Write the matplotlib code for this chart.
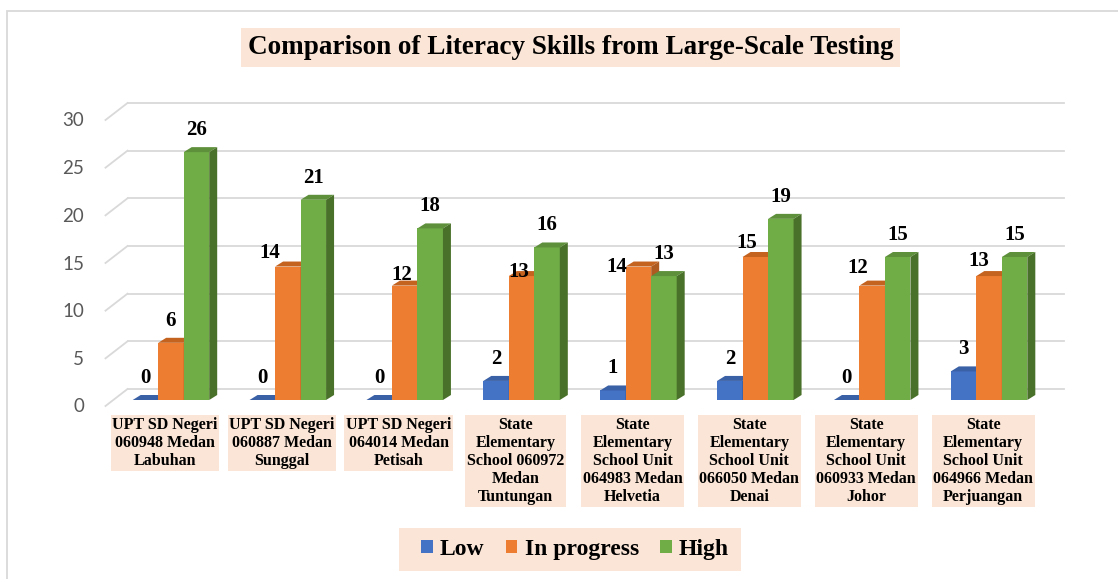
import matplotlib
matplotlib.use('Agg')
import matplotlib.pyplot as plt
from matplotlib.patches import Polygon, Rectangle, Patch
from matplotlib.transforms import ScaledTranslation

# ---------------- data ----------------
categories = [
    "UPT SD Negeri 060948 Medan Labuhan",
    "UPT SD Negeri 060887 Medan Sunggal",
    "UPT SD Negeri 064014 Medan Petisah",
    "State Elementary School 060972 Medan Tuntungan",
    "State Elementary School Unit 064983 Medan Helvetia",
    "State Elementary School Unit 066050 Medan Denai",
    "State Elementary School Unit 060933 Medan Johor",
    "State Elementary School Unit 064966 Medan Perjuangan",
]
category_labels = [
    "UPT SD Negeri\n060948 Medan\nLabuhan",
    "UPT SD Negeri\n060887 Medan\nSunggal",
    "UPT SD Negeri\n064014 Medan\nPetisah",
    "State\nElementary\nSchool 060972\nMedan\nTuntungan",
    "State\nElementary\nSchool Unit\n064983 Medan\nHelvetia",
    "State\nElementary\nSchool Unit\n066050 Medan\nDenai",
    "State\nElementary\nSchool Unit\n060933 Medan\nJohor",
    "State\nElementary\nSchool Unit\n064966 Medan\nPerjuangan",
]
low = [0, 0, 0, 2, 1, 2, 0, 3]
in_progress = [6, 14, 12, 13, 14, 15, 12, 13]
high = [26, 21, 18, 16, 13, 19, 15, 15]
series_names = ["Low", "In progress", "High"]
y_ticks = [0, 5, 10, 15, 20, 25, 30]
title_text = "Comparison of Literacy Skills from Large-Scale Testing"

# ---------------- style / layout ----------------
front_colors = ["#4472C4", "#ED7D31", "#70AD47"]
top_colors = ["#3A60A6", "#C4621F", "#5E903B"]
side_colors = ["#2F528F", "#AE5A21", "#4A7129"]
peach = "#FBE5D6"
grid_color = "#D9D9D9"
serif = "Liberation Serif"
# nudges (pixels) applied to the orange data labels, as Excel placed them
orange_label_nudge = [(0, 0), (-18, 8), (-3, 11), (-3, 18), (-22, 22), (-9, 8), (-14, 4), (-10, 7)]

W, H, DPI = 1118, 579, 100
fig = plt.figure(figsize=(W / DPI, H / DPI), dpi=DPI)
ax = fig.add_axes([112.5 / W, 179 / H, 935 / W, 286 / H])
n = len(categories)
ax.set_xlim(-0.5, n - 0.5)
ax.set_ylim(0, 30)
ax.axis('off')


def off(dx, dy):
    return ScaledTranslation(dx / DPI, dy / DPI, fig.dpi_scale_trans)


p0 = ax.transData.transform((0, 0))
p1 = ax.transData.transform((1, 1))
px_x = p1[0] - p0[0]
px_y = p1[1] - p0[1]

# back wall / side wall geometry (pixels relative to bar plane)
back_dx, back_dy = 15, 11
front_dx, front_dy = -7, -6
xl, xr = ax.get_xlim()

for v in y_ticks:
    ax.plot([xl + back_dx / px_x, xr + (back_dx + 1) / px_x],
            [v + back_dy / px_y, v + back_dy / px_y],
            color=grid_color, lw=1.3, clip_on=False, zorder=0.5)
    ax.plot([xl + front_dx / px_x, xl + back_dx / px_x],
            [v + front_dy / px_y, v + back_dy / px_y],
            color=grid_color, lw=1.3, clip_on=False, zorder=0.5)
    ax.text(0, v, str(v), transform=ax.get_yaxis_transform() + off(-28.5, -7),
            ha='right', va='center', family='Lato', fontsize=13.5, color='#595959')

# bars
bw = 25.5 / px_x
ddx = 8 / px_x
ddy = 5 / px_y
series = [low, in_progress, high]
offsets = [-bw, 0, bw]
for s, vals in enumerate(series):
    xs = [i + offsets[s] for i in range(n)]
    ax.bar(xs, vals, width=bw, color=front_colors[s], zorder=2, clip_on=False,
           edgecolor='none')
    for x, v in zip(xs, vals):
        x0, x1 = x - bw / 2, x + bw / 2
        top = Polygon([(x0, v), (x1, v), (x1 + ddx, v + ddy), (x0 + ddx, v + ddy)],
                      closed=True, fc=top_colors[s], ec='none', zorder=2, clip_on=False)
        side = Polygon([(x1, 0), (x1, v), (x1 + ddx, v + ddy), (x1 + ddx, ddy)],
                       closed=True, fc=side_colors[s], ec='none', zorder=2, clip_on=False)
        ax.add_patch(top)
        ax.add_patch(side)

# data labels
for s, vals in enumerate(series):
    for i, v in enumerate(vals):
        ndx, ndy = (orange_label_nudge[i] if s == 1 else (0, 0))
        ax.annotate(str(v), (i + offsets[s], v), xytext=(ndx, 22 - ndy),
                    textcoords='offset pixels', ha='center', va='center',
                    family=serif, fontweight='bold', fontsize=15, color='black',
                    zorder=5, annotation_clip=False)

# category labels
for i, lab in enumerate(category_labels):
    ax.text(i, 0, lab, transform=ax.transData + off(-6, -17), ha='center', va='top',
            family=serif, fontweight='bold', fontsize=11.5, linespacing=1.17,
            multialignment='center',
            bbox=dict(boxstyle='square,pad=0.1', fc=peach, ec='none'))

# title
fig.text(570.5 / W, 1 - 47.5 / H, title_text, ha='center', va='center',
         family=serif, fontweight='bold', fontsize=19.5,
         bbox=dict(boxstyle='square,pad=0.25', fc=peach, ec='none'))

# legend box and legend
fig.add_artist(Rectangle((399 / W, 1 - 571 / H), 342 / W, 43 / H, transform=fig.transFigure,
                         fc=peach, ec='none', zorder=0))
handles = [Patch(fc=c, ec='none') for c in front_colors]
leg = fig.legend(handles, series_names, loc='center', bbox_to_anchor=(575 / W, 1 - 549.5 / H),
                 ncol=3, frameon=False,
                 prop={'family': serif, 'weight': 'bold', 'size': 17},
                 handlelength=0.5, handleheight=0.5, handletextpad=0.3,
                 columnspacing=0.9, borderpad=0.35, borderaxespad=0)

# chart area border
fig.add_artist(Rectangle((7 / W, -0.1), 1.2, (1 - 11 / H) + 0.1, transform=fig.transFigure,
                         fill=False, ec=grid_color, lw=1.3))

fig.savefig('out.png', dpi=DPI)
